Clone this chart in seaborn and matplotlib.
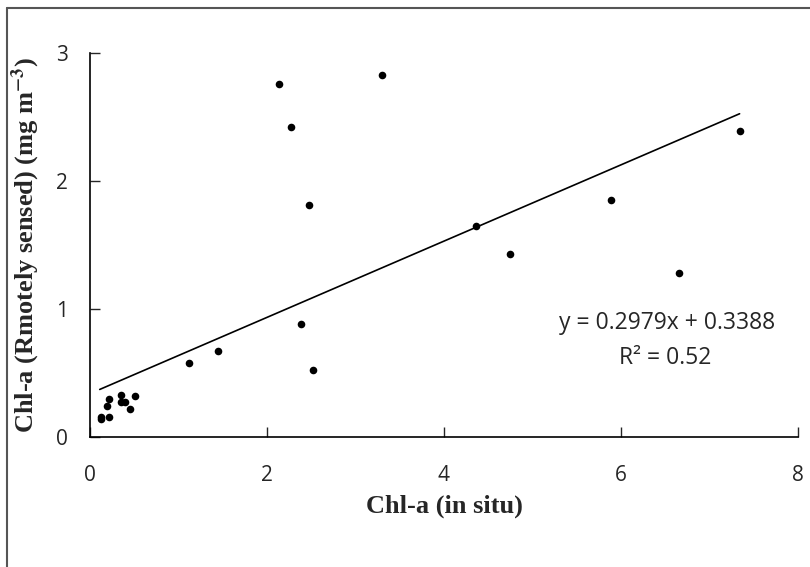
import numpy as np
import pandas as pd
import matplotlib
matplotlib.use("Agg")
import matplotlib.pyplot as plt
import seaborn as sns
from matplotlib.lines import Line2D

# Data
chl_insitu = [0.12, 0.12, 0.21, 0.19, 0.21, 0.35, 0.35, 0.40, 0.45, 0.51,
              1.12, 1.45, 2.13, 2.27, 2.47, 2.38, 2.52, 3.30, 4.36, 4.75,
              5.89, 6.65, 7.34]
chl_remote = [0.16, 0.14, 0.16, 0.24, 0.30, 0.33, 0.27, 0.27, 0.22, 0.32,
              0.58, 0.67, 2.76, 2.42, 1.81, 0.88, 0.52, 2.83, 1.65, 1.43,
              1.85, 1.28, 2.39]
slope = 0.2979
intercept = 0.3388
r2 = 0.52
x_ticks = [0, 2, 4, 6, 8]
y_ticks = [0, 1, 2, 3]

df = pd.DataFrame({"insitu": chl_insitu, "remote": chl_remote})
xfit = np.array([0.11, max(chl_insitu)])
fit = pd.DataFrame({"x": xfit, "y": slope * xfit + intercept})

sns.set_style("white")
plt.rcParams["font.family"] = ["Open Sans", "DejaVu Sans"]
plt.rcParams["mathtext.fontset"] = "stix"

fig = plt.figure(figsize=(8.1, 5.67), dpi=100)
ax = fig.add_axes([90 / 810, 130 / 567, 708 / 810, 384 / 567])

sns.scatterplot(data=df, x="insitu", y="remote", ax=ax, color="black",
                s=30, edgecolor="black", linewidth=0, zorder=3)
sns.lineplot(data=fit, x="x", y="y", ax=ax, color="black", linewidth=1.2)

ax.set_xlim(0, 8)
ax.set_ylim(0, 3)
ax.set_xticks(x_ticks)
ax.set_yticks(y_ticks)
ax.set_xticklabels([str(t) for t in x_ticks])
ax.set_yticklabels([str(t) for t in y_ticks])
ax.tick_params(axis="x", direction="in", length=7, width=1, pad=20,
               labelsize=15, bottom=True)
ax.tick_params(axis="y", direction="in", length=7, width=1, pad=16,
               labelsize=15, left=True)
for lbl in ax.get_xticklabels() + ax.get_yticklabels():
    lbl.set_fontweight("medium")
for s in ["top", "right"]:
    ax.spines[s].set_visible(False)
for s in ["left", "bottom"]:
    ax.spines[s].set_color("black")
    ax.spines[s].set_linewidth(1.2)

serif = ["Liberation Serif", "DejaVu Serif"]
ax.set_xlabel("Chl-a (in situ)", fontsize=19, fontweight="bold",
              family=serif, labelpad=6)
ax.set_ylabel(r"Chl-a (Rmotely sensed) (mg m$^{\mathbf{-3}}$)", fontsize=19,
              fontweight="bold", family=serif, labelpad=10)

ax.text(6.52, 0.89, f"y = {slope}x + {intercept}", fontsize=16.5,
        ha="center", va="center")
ax.text(6.5, 0.62, f"R\u00b2 = {r2}", fontsize=16.5, ha="center", va="center")

# outer frame (top and left edges)
fig.add_artist(Line2D([7 / 810, 7 / 810], [0, 1 - 8 / 567],
                      transform=fig.transFigure, color="#555555", lw=1.5))
fig.add_artist(Line2D([7 / 810, 1], [1 - 8 / 567, 1 - 8 / 567],
                      transform=fig.transFigure, color="#555555", lw=1.5))

fig.savefig("out.png", dpi=100)
